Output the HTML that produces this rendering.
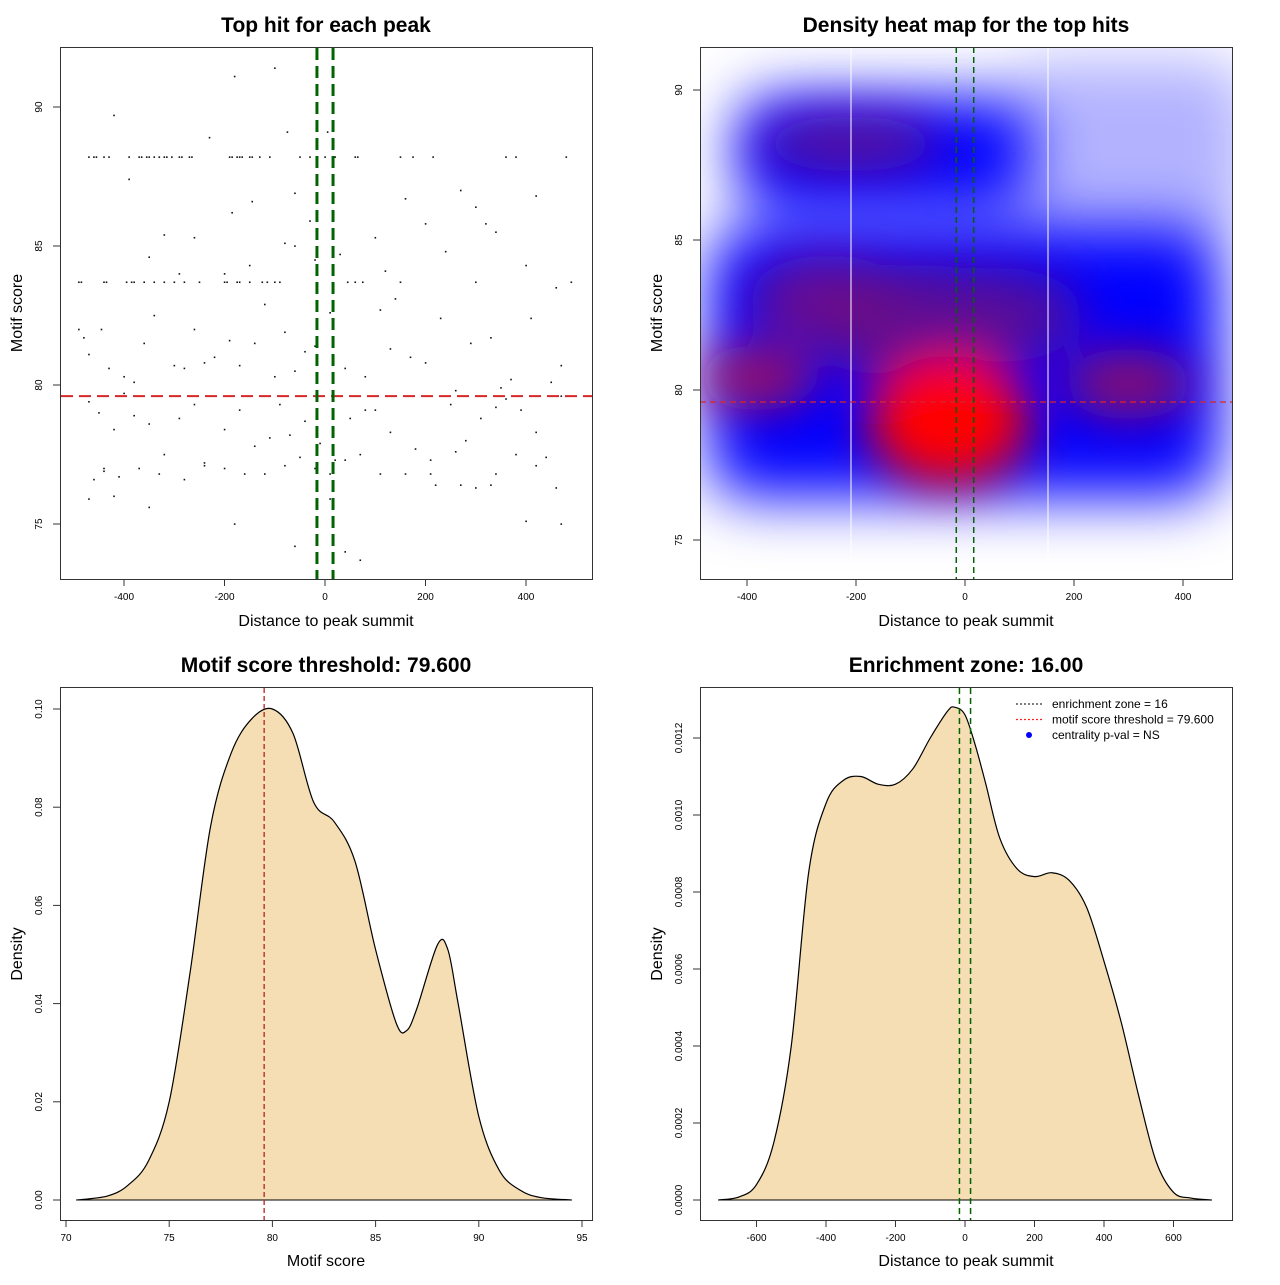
<!DOCTYPE html>
<html><head><meta charset="utf-8">
<style>
html,body{margin:0;padding:0;background:#fff;}
body{width:1280px;height:1280px;overflow:hidden;font-family:"Liberation Sans",sans-serif;}
svg text{font-family:"Liberation Sans",sans-serif;}
</style></head>
<body>
<svg id="svg" width="1280" height="1280" viewBox="0 0 1280 1280" xmlns="http://www.w3.org/2000/svg">
<defs>
<filter id="blur" filterUnits="userSpaceOnUse" x="560" y="-100" width="820" height="820"><feGaussianBlur stdDeviation="24"/></filter>
<filter id="blur2" filterUnits="userSpaceOnUse" x="560" y="-100" width="820" height="820"><feGaussianBlur stdDeviation="30"/></filter>
<clipPath id="clip2"><rect x="700" y="47" width="532" height="532"/></clipPath>
</defs>
<g id="p1"></g>
<g id="p2"></g>
<g id="p3"></g>
<g id="p4"></g>
</svg>
<script>
// ---- data ----
const scatterX = [-470,-460,-455,-440,-430,-390,-370,-365,-355,-350,-340,-330,-320,-315,-305,-290,-285,-270,-265,-190,-185,-175,-170,-165,-150,-145,-130,-110,-50,-30,0,20,60,65,150,175,215,360,
-490,-485,-440,-435,-395,-385,-380,-360,-340,-320,-300,-280,-250,-200,-195,-175,-170,-150,-125,-115,-100,-90,45,60,75,150,300,490,
-420,-180,-390,-230,-100,-75,5,-30,-185,-60,-145,-260,-320,-350,-150,-200,-290,-60,-80,-20,30,100,120,140,160,200,240,270,300,320,340,380,400,420,460,480,
-490,-480,-470,-445,-430,-400,-380,-360,-340,-300,-280,-260,-240,-220,-190,-170,-140,-120,-100,-80,-60,-40,-20,10,40,80,110,130,170,200,230,260,290,330,350,370,410,450,470,
-470,-450,-420,-400,-380,-350,-320,-290,-260,-240,-200,-170,-140,-110,-90,-70,-40,-10,20,50,80,100,130,180,210,250,280,310,340,360,390,420,440,470,
-460,-440,-410,-370,-330,-280,-240,-200,-160,-120,-80,-50,-20,10,40,70,110,160,220,260,300,340,380,420,460,
-470,-440,-420,-350,-180,-60,70,40,400,470,10,210,270,330];
const scatterY = [88.2,88.2,88.2,88.2,88.2,88.2,88.2,88.2,88.2,88.2,88.2,88.2,88.2,88.2,88.2,88.2,88.2,88.2,88.2,88.2,88.2,88.2,88.2,88.2,88.2,88.2,88.2,88.2,88.2,88.2,88.2,88.2,88.2,88.2,88.2,88.2,88.2,88.2,
83.7,83.7,83.7,83.7,83.7,83.7,83.7,83.7,83.7,83.7,83.7,83.7,83.7,83.7,83.7,83.7,83.7,83.7,83.7,83.7,83.7,83.7,83.7,83.7,83.7,83.7,83.7,83.7,
89.7,91.1,87.4,88.9,91.4,89.1,89.1,85.9,86.2,86.9,86.6,85.3,85.4,84.6,84.3,84.0,84.0,85.0,85.1,84.5,84.7,85.3,84.1,83.1,86.7,85.8,84.8,87.0,86.4,85.8,85.5,88.2,84.3,86.8,83.5,88.2,
82.0,81.7,81.1,82.0,80.6,80.3,80.1,81.5,82.5,80.7,80.6,82.0,80.8,81.0,81.6,80.7,81.5,82.9,80.3,81.9,80.5,81.2,81.4,82.6,80.6,80.3,82.7,81.3,81.0,80.8,82.4,79.8,81.5,81.7,79.9,80.2,82.4,80.1,80.7,
79.4,79.0,78.4,79.7,78.9,78.6,77.5,78.8,79.3,77.2,78.4,79.1,77.8,78.1,79.3,78.2,78.7,77.9,77.3,78.8,79.1,79.1,78.3,77.7,77.3,79.3,78.0,78.8,79.2,79.5,79.1,78.3,77.4,79.6,
76.6,77.0,76.7,77.0,76.8,76.6,77.1,77.0,76.8,76.8,77.1,77.4,77.0,76.8,77.3,77.5,76.8,76.8,76.4,77.6,76.3,76.8,77.5,77.1,76.3,
75.9,76.9,76.0,75.6,75.0,74.2,73.7,74.0,75.1,75.0,75.9,76.8,76.4,76.4];
const s3x = [70.5,72,73,74,75,76,77,78,79,80,81,82,83,84,85,86,86.5,87,88,88.5,89,90,91,92,93,94.5];
const s3y = [0,0.0008,0.003,0.008,0.02,0.046,0.076,0.091,0.098,0.1,0.095,0.081,0.077,0.069,0.051,0.036,0.0345,0.039,0.052,0.051,0.04,0.017,0.006,0.002,0.0005,0];
const s4x = [-710,-650,-600,-550,-500,-450,-400,-350,-300,-250,-200,-150,-100,-50,-30,0,30,60,100,150,200,250,300,350,400,450,500,550,600,650,710];
const s4y = [0,0.000008,0.00004,0.00015,0.0004,0.00085,0.00103,0.00109,0.0011,0.00108,0.00108,0.00112,0.0012,0.00127,0.00128,0.00126,0.00118,0.00108,0.00094,0.00086,0.00084,0.00085,0.00083,0.00076,0.00062,0.00046,0.00027,0.0001,0.00002,0.000005,0];
const p1xTicks = [-400,-200,0,200,400];
const p1yTicks = [75,80,85,90];
const p3xTicks = [70,75,80,85,90,95];
const p3yTicks = [0,0.02,0.04,0.06,0.08,0.10];
const p3yLabels = ["0.00","0.02","0.04","0.06","0.08","0.10"];
const p4xTicks = [-600,-400,-200,0,200,400,600];
const p4yTicks = [0,0.0002,0.0004,0.0006,0.0008,0.001,0.0012];
const p4yLabels = ["0.0000","0.0002","0.0004","0.0006","0.0008","0.0010","0.0012"];
// heatmap density regions (data units)
const heatBaseX0 = [-470,-420,-470,80];
const heatBaseX1 = [470,120,470,520];
const heatBaseY0 = [76.4,86.0,80,85];
const heatBaseY1 = [85.4,89.8,82,91];
const heatBaseA = [1,1,1,0.3];
const heatBlobsX = [-380,-250,-210,-80,60,300,-30,0];
const heatBlobsY = [80.4,83.0,88.2,82.2,82.5,80.2,79.0,78.6];
const heatBlobsR = [110,150,170,200,160,120,150,90];
const heatBlobsC = ["#b0104a","#7a0f80","#6a0f85","#6a0a85","#5a0a95","#9a0a5a","#ff0000","#ff0000"];
const scoreThreshold = 79.6, zone = 16;

const NS="http://www.w3.org/2000/svg";
function mk(parent,tag,attrs){const e=document.createElementNS(NS,tag);for(const k in attrs)e.setAttribute(k,attrs[k]);parent.appendChild(e);return e;}
function lin(d0,d1,r0,r1){return v=>r0+(v-d0)*(r1-r0)/(d1-d0);}
function txt(g,x,y,s,size,opts={}){const t=mk(g,'text',Object.assign({x:x,y:y,'font-size':size,fill:'#000','text-anchor':'middle'},opts));t.textContent=s;return t;}
function frame(g,L,T,W,H,title){
  const r=mk(g,'rect',{x:L+0.5,y:T+0.5,width:W,height:H,fill:'none',stroke:'#333','stroke-width':1});
  
  const t=txt(g,L+W/2,T-15,title,21,{'font-weight':'bold'});
  
}
function xAxis(g,sx,ticks,y,labels){
  const a=mk(g,'g',{});
  mk(a,'line',{x1:sx(ticks[0]),x2:sx(ticks[ticks.length-1]),y1:y+0.5,y2:y+0.5,stroke:'#333'});
  ticks.forEach((v,i)=>{mk(a,'line',{x1:sx(v),x2:sx(v),y1:y,y2:y+7,stroke:'#333'});
    const t=txt(a,sx(v),y+21,labels?labels[i]:String(v),10);});
}
function yAxis(g,sy,ticks,x,labels){
  const a=mk(g,'g',{});
  mk(a,'line',{x1:x+0.5,x2:x+0.5,y1:sy(ticks[0]),y2:sy(ticks[ticks.length-1]),stroke:'#333'});
  ticks.forEach((v,i)=>{mk(a,'line',{x1:x,x2:x-7,y1:sy(v),y2:sy(v),stroke:'#333'});
    const tx=x-18,ty=sy(v);
    const t=txt(a,tx,ty,labels?labels[i]:String(v),10,{transform:`rotate(-90 ${tx} ${ty})`});});
}
function axTitles(g,cx,xy,xs,yx,cy,ys){
  const a=txt(g,cx,xy,xs,16);
  const b=txt(g,yx,cy,ys,16,{transform:`rotate(-90 ${yx} ${cy})`});
}
function smooth(pts){let d=`M${pts[0][0]},${pts[0][1]}`;for(let i=0;i<pts.length-1;i++){const p0=pts[i-1]||pts[i],p1=pts[i],p2=pts[i+1],p3=pts[i+2]||p2;
  d+=` C${p1[0]+(p2[0]-p0[0])/6},${p1[1]+(p2[1]-p0[1])/6} ${p2[0]-(p3[0]-p1[0])/6},${p2[1]-(p3[1]-p1[1])/6} ${p2[0]},${p2[1]}`;}return d;}

// ---- panel 1 ----
(function(){const g=document.getElementById('p1');
 const sx=lin(0,400,325,526), sy=lin(80,90,385,107);
 frame(g,60,47,532,532,'Top hit for each peak');
 const pts=mk(g,'g',{});
 scatterX.forEach((x,i)=>{const c=mk(pts,'rect',{x:sx(x)-0.7,y:sy(scatterY[i])-0.7,width:1.6,height:1.6,fill:'#111'});
   });
 const h=mk(g,'line',{x1:61,x2:592,y1:sy(scoreThreshold),y2:sy(scoreThreshold),stroke:'#d62728','stroke-width':2,'stroke-dasharray':'12,6'});
 
 [-zone,zone].forEach(z=>{const l=mk(g,'line',{x1:sx(z),x2:sx(z),y1:48,y2:579,stroke:'#006400','stroke-width':3,'stroke-dasharray':'12,6'});
  });
 xAxis(g,sx,p1xTicks,579); yAxis(g,sy,p1yTicks,60);
 axTitles(g,326,626,'Distance to peak summit',22,313,'Motif score');
})();

// ---- panel 2 ----
(function(){const g=document.getElementById('p2');
 const sx=lin(0,200,965,1074), sy=lin(80,85,390,240);
 const hm=mk(g,'g',{'clip-path':'url(#clip2)'});
 mk(hm,'rect',{x:700,y:47,width:532,height:532,fill:'#ffffff'});
 const bb=mk(hm,'g',{filter:'url(#blur2)'});
 heatBaseX0.forEach((x0,i)=>{const r=mk(bb,'rect',{x:sx(x0),y:sy(heatBaseY1[i]),width:sx(heatBaseX1[i])-sx(x0),height:sy(heatBaseY0[i])-sy(heatBaseY1[i]),rx:40,fill:'#0000ff','fill-opacity':heatBaseA[i]});
   });
 const b=mk(hm,'g',{filter:'url(#blur)'});
 heatBlobsX.forEach((x,i)=>{const e=mk(b,'ellipse',{cx:sx(x),cy:sy(heatBlobsY[i]),rx:heatBlobsR[i]*0.54,ry:heatBlobsR[i]*0.54*(i==2?0.3:(i>=6?0.8:0.55)),fill:heatBlobsC[i],'fill-opacity':i>=6?1:0.85});
   });
 [851,1048].forEach(x=>{const l=mk(hm,'line',{x1:x,x2:x,y1:47,y2:579,stroke:'#fff','stroke-width':1});});
 const h=mk(g,'line',{x1:700,x2:1232,y1:sy(scoreThreshold),y2:sy(scoreThreshold),stroke:'#d62728','stroke-width':1.3,'stroke-dasharray':'6,4'});
 
 [-zone,zone].forEach(z=>{const l=mk(g,'line',{x1:sx(z),x2:sx(z),y1:47,y2:579,stroke:'#006400','stroke-width':1.5,'stroke-dasharray':'6,4'});
  });
 frame(g,700,47,532,532,'Density heat map for the top hits');
 xAxis(g,sx,[-400,-200,0,200,400],579); yAxis(g,sy,[75,80,85,90],700);
 axTitles(g,966,626,'Distance to peak summit',662,313,'Motif score');
})();

// ---- panel 3 ----
(function(){const g=document.getElementById('p3');
 const sx=lin(70,95,66,582), sy=lin(0,0.1,1200,709);
 frame(g,60,687,532,533,'Motif score threshold: 79.600');
 const pts=s3x.map((x,i)=>[sx(x),sy(s3y[i])]);
 const d=smooth(pts);
 const a=mk(g,'path',{d:d+' Z',fill:'#f5deb3',stroke:'none'});
 const c=mk(g,'path',{d:d,fill:'none',stroke:'#000','stroke-width':1.2});
 mk(g,'line',{x1:sx(70.5),x2:sx(94.5),y1:sy(0),y2:sy(0),stroke:'#000'});
 const l=mk(g,'line',{x1:sx(scoreThreshold),x2:sx(scoreThreshold),y1:688,y2:1220,stroke:'#b22222','stroke-width':1.3,'stroke-dasharray':'5,3'});
 
 xAxis(g,sx,p3xTicks,1220); yAxis(g,sy,p3yTicks,60,p3yLabels);
 axTitles(g,326,1266,'Motif score',22,954,'Density');
})();

// ---- panel 4 ----
(function(){const g=document.getElementById('p4');
 const sx=lin(0,200,965,1034.5), sy=lin(0,0.0012,1200,738);
 frame(g,700,687,532,533,'Enrichment zone: 16.00');
 const pts=s4x.map((x,i)=>[sx(x),sy(s4y[i])]);
 const d=smooth(pts);
 const a=mk(g,'path',{d:d+' Z',fill:'#f5deb3',stroke:'none'});
 const c=mk(g,'path',{d:d,fill:'none',stroke:'#000','stroke-width':1.2});
 mk(g,'line',{x1:sx(-710),x2:sx(710),y1:sy(0),y2:sy(0),stroke:'#000'});
 [-zone,zone].forEach(z=>{const l=mk(g,'line',{x1:sx(z),x2:sx(z),y1:688,y2:1220,stroke:'#006400','stroke-width':1.5,'stroke-dasharray':'6,4'});
  });
 xAxis(g,sx,p4xTicks,1220); yAxis(g,sy,p4yTicks,700,p4yLabels);
 axTitles(g,966,1266,'Distance to peak summit',662,954,'Density');
 const lg=mk(g,'g',{});
 const items=[['enrichment zone = 16','#333','line'],['motif score threshold = 79.600','#ff2020','line'],['centrality p-val = NS','#0000ff','dot']];
 items.forEach((it,i)=>{const y=704+i*15.5;const e=mk(lg,'g',{});
  if(it[2]==='line')mk(e,'line',{x1:1016,x2:1042,y1:y,y2:y,stroke:it[1],'stroke-width':1.2,'stroke-dasharray':'2,2'});
  else mk(e,'circle',{cx:1029,cy:y,r:3,fill:it[1]});
  txt(e,1052,y+4,it[0],12,{'text-anchor':'start'});});
})();
</script>
</body></html>
